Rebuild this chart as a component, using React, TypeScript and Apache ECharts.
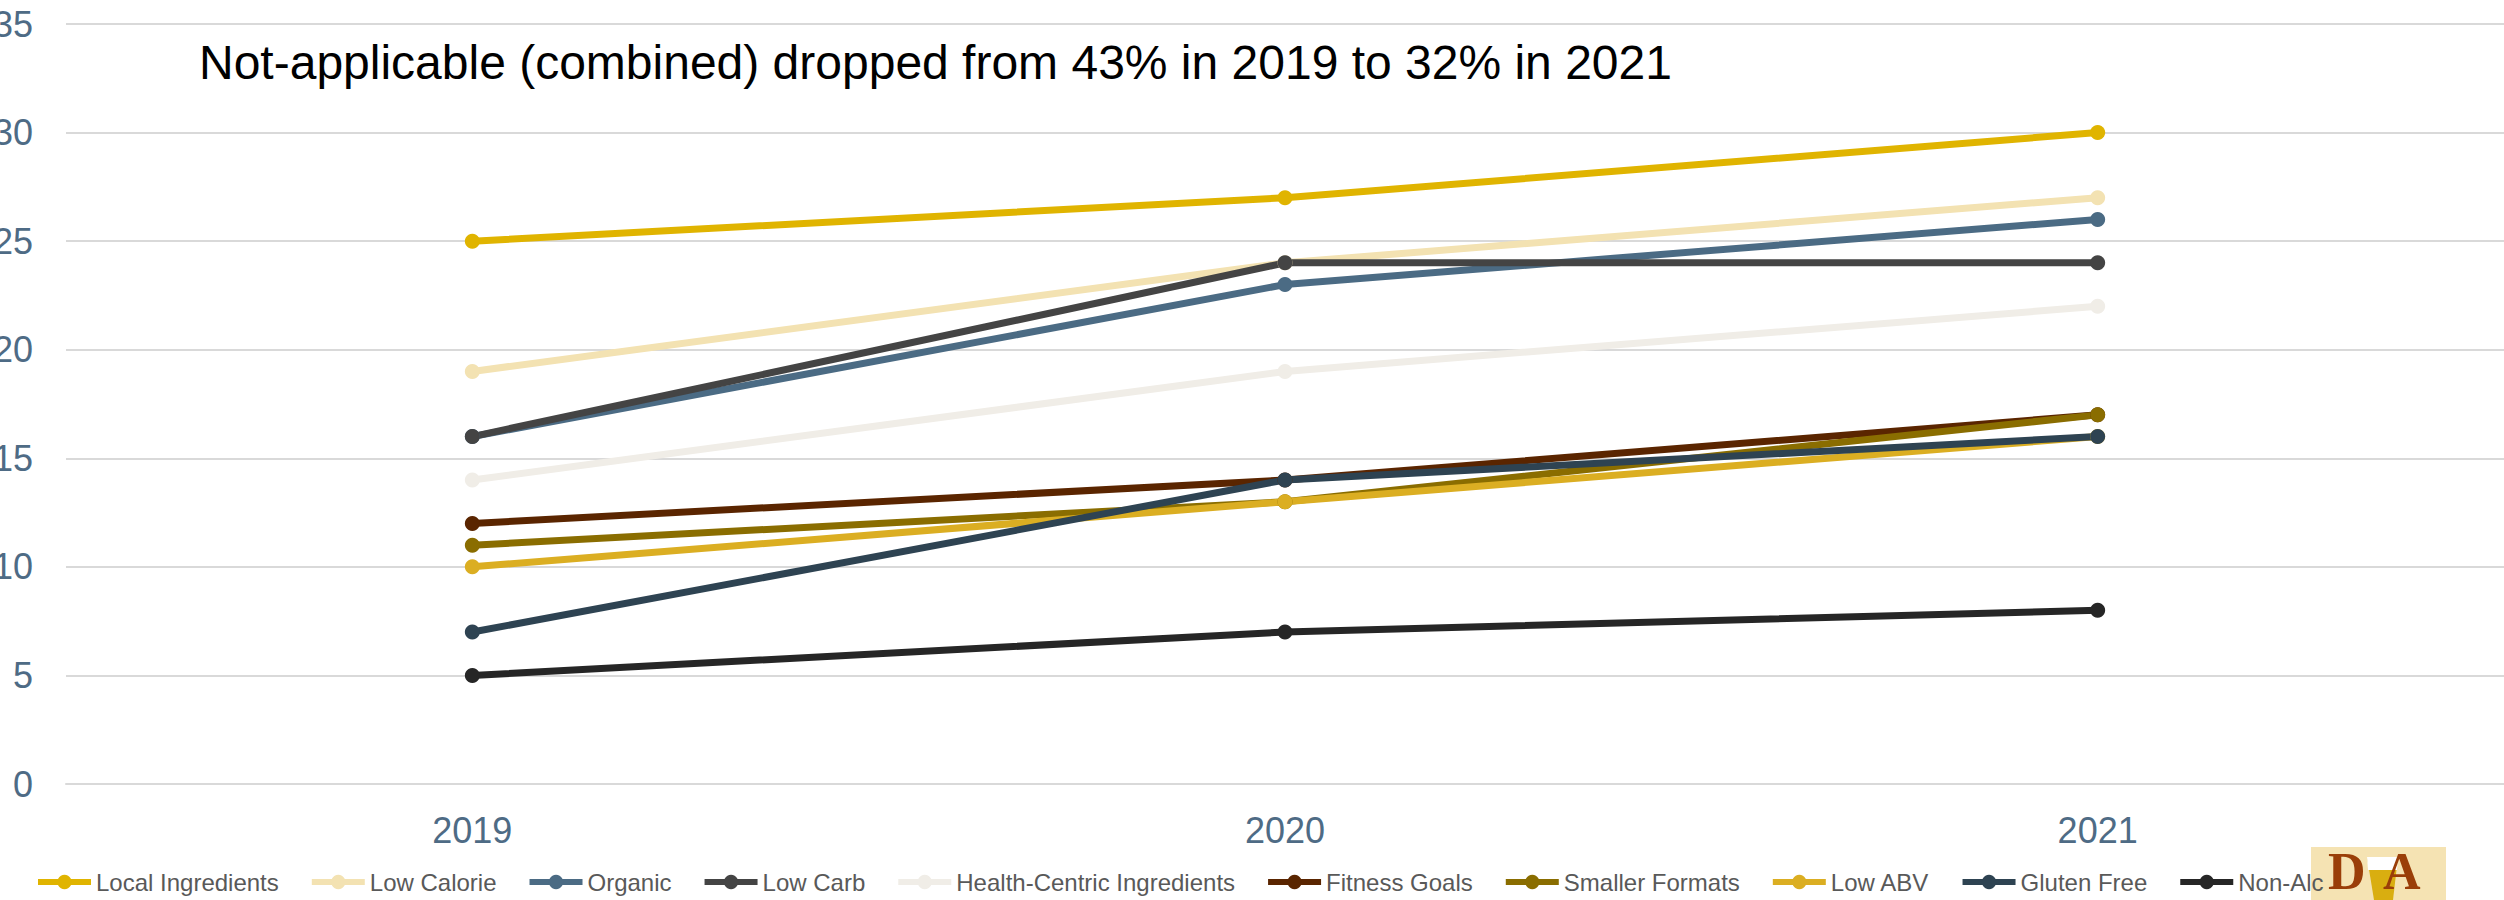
import React, { useEffect, useRef } from "react";
import * as echarts from "echarts";

const years = ["2019", "2020", "2021"];
const seriesNames = [
  "Local Ingredients",
  "Low Calorie",
  "Organic",
  "Low Carb",
  "Health-Centric Ingredients",
  "Fitness Goals",
  "Smaller Formats",
  "Low ABV",
  "Gluten Free",
  "Non-Alc",
];
const localIngredients = [25, 27, 30];
const lowCalorie = [19, 24, 27];
const organic = [16, 23, 26];
const lowCarb = [16, 24, 24];
const healthCentric = [14, 19, 22];
const fitnessGoals = [12, 14, 17];
const smallerFormats = [11, 13, 17];
const lowABV = [10, 13, 16];
const glutenFree = [7, 14, 16];
const nonAlc = [5, 7, 8];
const seriesValues = [
  localIngredients,
  lowCalorie,
  organic,
  lowCarb,
  healthCentric,
  fitnessGoals,
  smallerFormats,
  lowABV,
  glutenFree,
  nonAlc,
];
const colors = [
  "#E0B400",
  "#F3E2B2",
  "#4B6B84",
  "#444444",
  "#F0EDE7",
  "#5A2500",
  "#8A6D00",
  "#DBAE22",
  "#2E4352",
  "#262626",
];
const yTicks = [0, 5, 10, 15, 20, 25, 30, 35];
const titleText = "Not-applicable (combined) dropped from 43% in 2019 to 32% in 2021";

const FONT = "'Liberation Sans', Arial, sans-serif";
const LOGO_FONT = "bold 52px 'Liberation Serif', serif";

export default function App() {
  const ref = useRef<HTMLDivElement>(null);
  useEffect(() => {
    document.body.style.margin = "0";
    if (!ref.current) return;
    const chart = echarts.init(ref.current, null, { renderer: "svg" });
    const option = {
      animation: false,
      backgroundColor: "#ffffff",
      color: colors,
      textStyle: { fontFamily: FONT },
      title: {
        text: titleText,
        left: 199,
        top: 38,
        padding: 0,
        textStyle: { fontFamily: FONT, fontSize: 48, fontWeight: "normal", color: "#000000" },
      },
      grid: {
        left: 66,
        right: 0,
        top: 24,
        bottom: 116,
        containLabel: false,
        outerBoundsMode: "none",
      },
      legend: {
        left: 35,
        top: 870,
        padding: 0,
        itemWidth: 53,
        itemHeight: 18,
        itemGap: 30,
        lineStyle: { width: 6 },
        textStyle: { fontFamily: FONT, fontSize: 24, color: "#595959" },
        data: seriesNames,
      },
      xAxis: {
        type: "category",
        data: years,
        boundaryGap: true,
        axisLine: { show: true, lineStyle: { color: "#D9D9D9", width: 2 } },
        axisTick: { show: false },
        axisLabel: { fontFamily: FONT, fontSize: 36, color: "#4E6B85", margin: 28 },
      },
      yAxis: {
        type: "value",
        min: yTicks[0],
        max: yTicks[yTicks.length - 1],
        interval: 5,
        axisLine: { show: false },
        axisTick: { show: false },
        splitLine: { lineStyle: { color: "#D9D9D9", width: 2 } },
        axisLabel: { fontFamily: FONT, fontSize: 36, color: "#4E6B85", margin: 33 },
      },
      series: seriesNames.map((name, i) => ({
        name,
        type: "line",
        data: seriesValues[i],
        symbol: "circle",
        symbolSize: 15,
        lineStyle: { width: 7, color: colors[i] },
        itemStyle: { color: colors[i] },
      })),
      graphic: [
        { type: "rect", left: 2311, top: 847, shape: { width: 135, height: 53 }, style: { fill: "#F5E3B3" } },
        {
          type: "polygon",
          shape: { points: [[2367, 857], [2398, 857], [2393, 900], [2374, 900]] },
          style: { fill: "#D9AE10" },
        },
        {
          type: "polygon",
          shape: { points: [[2367, 857], [2398, 857], [2397, 870], [2368, 870]] },
          style: { fill: "#FFFFFF" },
        },
        {
          type: "text",
          x: 2328,
          y: 845,
          style: { text: "D", fill: "#9A3E08", font: LOGO_FONT, verticalAlign: "top" },
        },
        {
          type: "text",
          x: 2383,
          y: 845,
          style: { text: "A", fill: "#9A3E08", font: LOGO_FONT, verticalAlign: "top" },
        },
      ],
    };
    chart.setOption(option as any);
    return () => chart.dispose();
  }, []);
  return <div ref={ref} style={{ width: 2504, height: 900 }} />;
}
